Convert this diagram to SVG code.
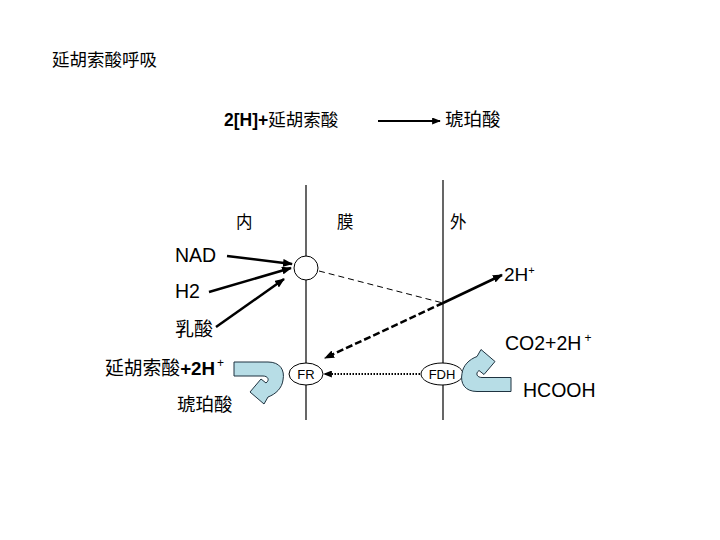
<svg xmlns="http://www.w3.org/2000/svg" width="720" height="540" viewBox="0 0 720 540">
<style>
.cjk{font-family:"Liberation Sans","Noto Sans CJK SC",sans-serif;fill:#000}
.lat{font-family:"Liberation Sans",Arial,sans-serif;fill:#000}
.ln{stroke:#000;fill:none}
.node{fill:#fff;stroke:#000;stroke-width:1}
.curl{fill:#b7dde6;stroke:#1f3340;stroke-width:1;stroke-linejoin:miter}
</style>
<defs>
<marker id="ah" viewBox="0 0 10 8" refX="9" refY="4" markerWidth="10" markerHeight="8" markerUnits="userSpaceOnUse" orient="auto">
<path d="M0,0 L10,4 L0,8 Z" fill="#000"/>
</marker>
<marker id="ahs" viewBox="0 0 10 8" refX="9" refY="4" markerWidth="9" markerHeight="7" markerUnits="userSpaceOnUse" orient="auto">
<path d="M0,0 L10,4 L0,8 Z" fill="#000"/>
</marker>
<path id="curlPath" d="M234,362 H268 C280,362 285,370 283,380 C282,388 276,394 268,397 L264,404 L250,392 L261,379 L266,383 C270,380 268,376 263,376 H234 Z"/>
</defs>
<rect width="720" height="540" fill="#fff"/>

<g id="labels">
<text class="cjk" x="52" y="66" font-size="17.5">延胡索酸呼吸</text>
<text class="cjk" x="224" y="126" font-size="17.5"><tspan class="lat" font-weight="bold">2[H]+</tspan>延胡索酸</text>
<text class="cjk" x="445" y="126" font-size="18.5">琥珀酸</text>
<text class="cjk" x="236" y="228" font-size="16.5">内</text>
<text class="cjk" x="337" y="228" font-size="16.5">膜</text>
<text class="cjk" x="450" y="228" font-size="16.5">外</text>
</g>

<g id="membranes">
<line class="ln" x1="306" y1="185" x2="306" y2="420" stroke-width="1.2"/>
<line class="ln" x1="443" y1="180" x2="443" y2="420" stroke-width="1.2"/>
</g>

<g id="connectors">
<line class="ln" x1="378" y1="121" x2="440" y2="121" stroke-width="2" marker-end="url(#ahs)"/>
<line class="ln" x1="227" y1="256" x2="292" y2="264" stroke-width="2.5" marker-end="url(#ah)"/>
<line class="ln" x1="209" y1="292" x2="291" y2="268" stroke-width="2.5" marker-end="url(#ah)"/>
<line class="ln" x1="216" y1="327" x2="284" y2="279" stroke-width="2.5" marker-end="url(#ah)"/>
<line class="ln" x1="319" y1="271" x2="443" y2="303" stroke-width="1" stroke-dasharray="6,4"/>
<line class="ln" x1="443" y1="303" x2="502" y2="275" stroke-width="2.5" marker-end="url(#ah)"/>
<line class="ln" x1="443" y1="303" x2="325" y2="358" stroke-width="2.5" stroke-dasharray="7,3" marker-end="url(#ah)"/>
<line class="ln" x1="420" y1="374" x2="324" y2="374" stroke-width="2" stroke-dasharray="1.5,1.5" marker-end="url(#ahs)"/>
</g>

<g id="node-center">
<circle class="node" cx="306" cy="268" r="12"/>
</g>
<g id="node-FR">
<ellipse class="node" cx="306" cy="374" rx="17" ry="11"/>
<text class="lat" x="306" y="379" font-size="13" text-anchor="middle">FR</text>
</g>
<g id="node-FDH">
<ellipse class="node" cx="442" cy="374" rx="21" ry="11"/>
<text class="lat" x="442" y="379" font-size="13" text-anchor="middle">FDH</text>
</g>

<g id="node-NAD"><text class="lat" x="175" y="262" font-size="19.5">NAD</text></g>
<g id="node-H2"><text class="lat" x="175" y="298" font-size="19.5">H2</text></g>
<g id="node-lactate"><text class="cjk" x="175" y="336" font-size="19">乳酸</text></g>
<g id="node-2H"><text class="lat" x="504" y="281" font-size="19">2H<tspan font-size="11" dy="-7">+</tspan></text></g>
<g id="node-CO2"><text class="lat" x="505" y="350" font-size="19.5">CO2+2H<tspan font-size="12" dy="-8" dx="3">+</tspan></text></g>
<g id="node-HCOOH"><text class="lat" x="523" y="397" font-size="19.5">HCOOH</text></g>
<g id="node-fumarate"><text class="cjk" x="105" y="375" font-size="18.8">延胡索酸<tspan class="lat" font-weight="bold">+2H</tspan><tspan class="lat" font-size="12" dy="-8" dx="2">+</tspan></text></g>
<g id="node-succinate"><text class="cjk" x="177" y="411" font-size="18.5">琥珀酸</text></g>

<g id="curl-left"><use href="#curlPath" class="curl"/></g>
<g id="curl-right"><use href="#curlPath" class="curl" transform="translate(745,753.5) rotate(180)"/></g>
</svg>
